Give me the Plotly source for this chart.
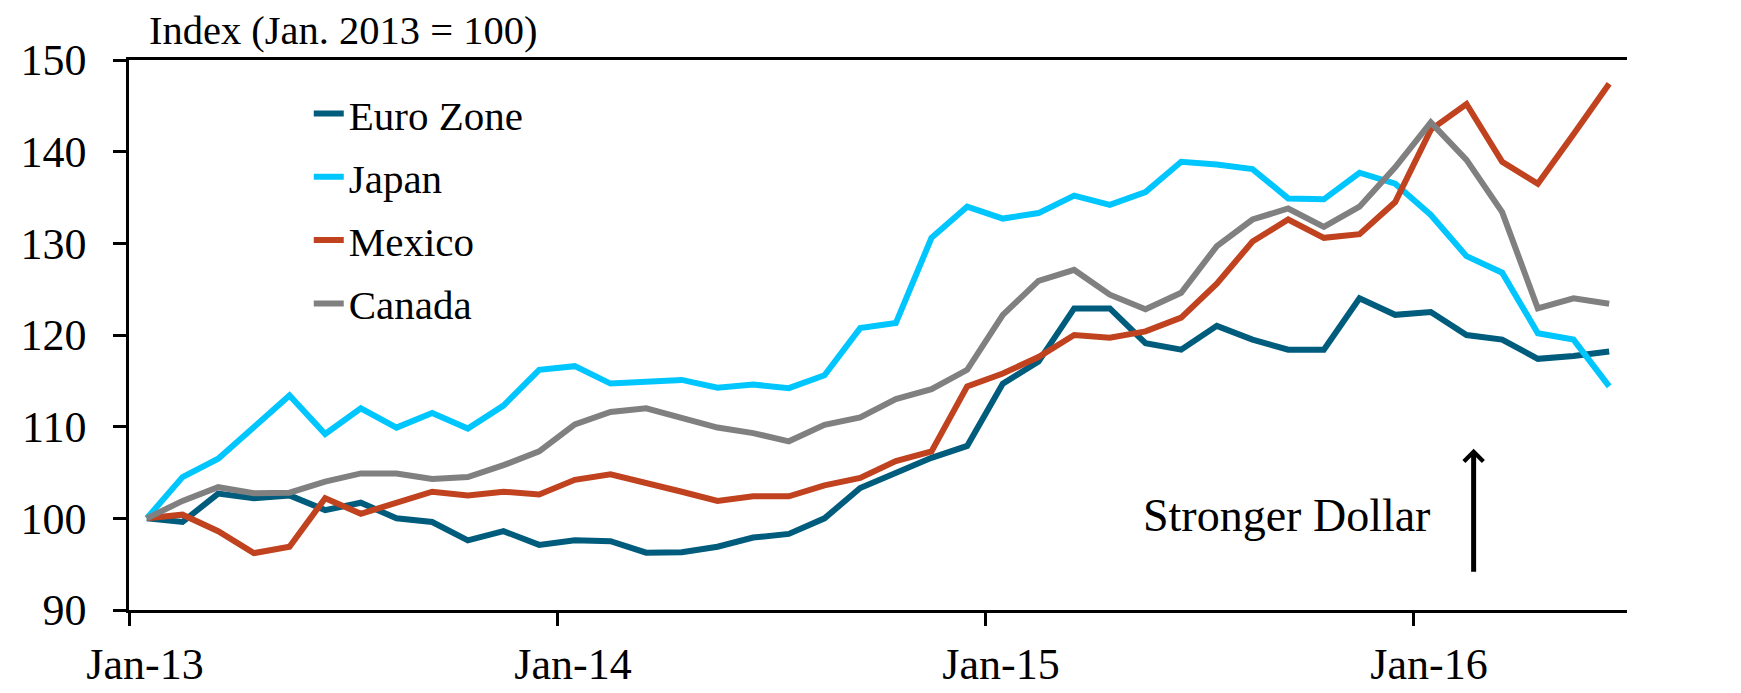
import pandas as pd
import plotly.graph_objects as go

months = list(pd.date_range("2013-01-01", periods=42, freq="MS").strftime("%b-%y"))

euro_zone = [100.0, 99.6, 102.7, 102.2, 102.5, 100.9, 101.7, 100.0, 99.6, 97.6, 98.6, 97.1,
             97.6, 97.5, 96.25, 96.3, 96.9, 97.9, 98.3, 100.0, 103.3, 104.9, 106.6, 107.9,
             114.7, 117.1, 122.9, 122.9, 119.1, 118.4, 121.0, 119.5, 118.4, 118.4, 124.0, 122.2,
             122.5, 120.0, 119.5, 117.4, 117.7, 118.2]
japan = [100.0, 104.5, 106.5, 109.9, 113.4, 109.2, 112.0, 109.9, 111.5, 109.8, 112.3, 116.2,
         116.6, 114.7, 114.9, 115.1, 114.25, 114.6, 114.2, 115.6, 120.75, 121.3, 130.6, 134.0,
         132.7, 133.3, 135.2, 134.2, 135.6, 138.9, 138.6, 138.1, 134.9, 134.8, 137.7, 136.5,
         133.1, 128.6, 126.8, 120.2, 119.5, 114.4]
mexico = [100.0, 100.4, 98.6, 96.2, 96.9, 102.2, 100.5, 101.75, 102.9, 102.5, 102.9, 102.6,
          104.2, 104.8, 103.9, 102.9, 101.9, 102.4, 102.4, 103.6, 104.4, 106.25, 107.3, 114.4,
          115.8, 117.6, 120.0, 119.7, 120.4, 121.9, 125.6, 130.2, 132.6, 130.6, 131.0, 134.5,
          142.4, 145.2, 138.9, 136.5, 141.9, 147.4]
canada = [100.0, 101.9, 103.4, 102.75, 102.8, 104.0, 104.9, 104.9, 104.3, 104.5, 105.8, 107.3,
          110.25, 111.6, 112.0, 110.9, 109.9, 109.3, 108.4, 110.2, 111.0, 113.0, 114.1, 116.2,
          122.2, 125.9, 127.1, 124.4, 122.8, 124.6, 129.7, 132.6, 133.8, 131.8, 134.0, 138.3,
          143.2, 139.1, 133.4, 122.9, 124.0, 123.4]

series_names = ["Euro Zone", "Japan", "Mexico", "Canada"]
series_values = [euro_zone, japan, mexico, canada]
series_colors = ["#005C7C", "#00C6FF", "#C0421F", "#808080"]

y_ticks = [90, 100, 110, 120, 130, 140, 150]
x_tick_labels = ["Jan-13", "Jan-14", "Jan-15", "Jan-16"]

FONT = "Liberation Serif"
x_idx = list(range(len(months)))
boundaries = [months.index(lbl) - 0.5 for lbl in x_tick_labels]

fig = go.Figure()
for name, vals, col in zip(series_names, series_values, series_colors):
    fig.add_trace(go.Scatter(
        x=x_idx, y=vals, name=name, mode="lines", legendgroup=name,
        line=dict(color=col, width=6),
        customdata=months, hovertemplate="%{customdata}: %{y}<extra>" + name + "</extra>",
    ))

fig.add_annotation(
    x=37.2, y=107.6, ax=37.2, ay=94.0, xref="x", yref="y", axref="x", ayref="y",
    text="", showarrow=True, arrowhead=4, arrowsize=0.75, arrowwidth=5,
    arrowcolor="black", standoff=0, startstandoff=0,
)
fig.add_annotation(
    x=31.95, y=100.3, xref="x", yref="y", text="Stronger Dollar", showarrow=False,
    xanchor="center", yanchor="middle", font=dict(family=FONT, size=46, color="black"),
)
fig.add_annotation(
    x=0.012, y=1.054, xref="paper", yref="paper", text="Index (Jan. 2013 = 100)",
    showarrow=False, xanchor="left", yanchor="middle",
    font=dict(family=FONT, size=40.5, color="black"),
)

fig.update_layout(
    width=1741, height=693,
    margin=dict(l=120, r=122, t=52, b=82),
    paper_bgcolor="white", plot_bgcolor="white",
    font=dict(family=FONT, size=44, color="black"),
    showlegend=True,
    legend=dict(
        x=0.12, y=0.963, xanchor="left", yanchor="top",
        bgcolor="rgba(0,0,0,0)", font=dict(family=FONT, size=41),
        tracegroupgap=7, traceorder="grouped",
    ),
    xaxis=dict(
        range=[-0.5, len(months) - 0.5],
        tickmode="array", tickvals=boundaries, ticktext=x_tick_labels,
        ticklabelshift=16,
        ticks="outside", ticklen=13, tickwidth=2.5, tickcolor="black",
        showline=True, linecolor="black", linewidth=2.5, mirror=True,
        showgrid=False, zeroline=False,
        tickfont=dict(family=FONT, size=44),
    ),
    yaxis=dict(
        range=[90, 150], tickmode="array", tickvals=y_ticks,
        ticks="outside", ticklen=13, tickwidth=2.5, tickcolor="black",
        ticklabelstandoff=18,
        showline=True, linecolor="black", linewidth=2.5,
        showgrid=False, zeroline=False,
        tickfont=dict(family=FONT, size=44),
    ),
    yaxis2=dict(
        range=[90, 150], tickmode="array", tickvals=y_ticks,
        overlaying="y", side="right", anchor="x",
        ticks="outside", ticklen=13, tickwidth=2.5, tickcolor="black",
        ticklabelstandoff=24,
        showline=True, linecolor="black", linewidth=2.5,
        showgrid=False, zeroline=False,
        tickfont=dict(family=FONT, size=44),
    ),
)

fig.write_html("out.html")
